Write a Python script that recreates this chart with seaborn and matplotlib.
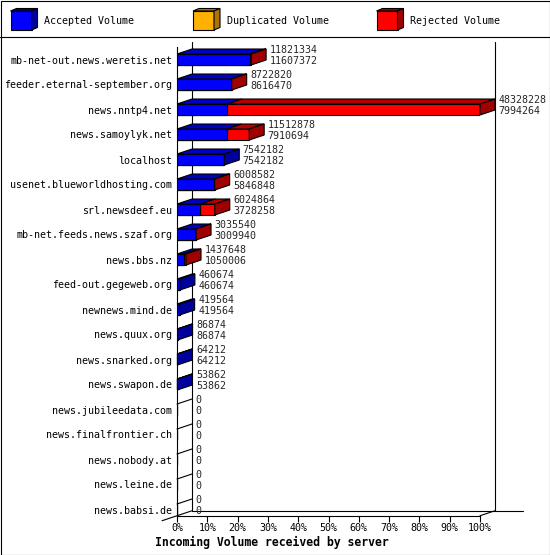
import numpy as np
import pandas as pd
import matplotlib
matplotlib.use("Agg")
import matplotlib.pyplot as plt
from matplotlib.patches import Polygon, Rectangle
import seaborn as sns

# ---------------- data ----------------
servers = ["mb-net-out.news.weretis.net", "feeder.eternal-september.org", "news.nntp4.net",
           "news.samoylyk.net", "localhost", "usenet.blueworldhosting.com", "srl.newsdeef.eu",
           "mb-net.feeds.news.szaf.org", "news.bbs.nz", "feed-out.gegeweb.org", "newnews.mind.de",
           "news.quux.org", "news.snarked.org", "news.swapon.de", "news.jubileedata.com",
           "news.finalfrontier.ch", "news.nobody.at", "news.leine.de", "news.babsi.de"]
total = [11821334, 8722820, 48328228, 11512878, 7542182, 6008582, 6024864, 3035540, 1437648,
         460674, 419564, 86874, 64212, 53862, 0, 0, 0, 0, 0]
accepted = [11607372, 8616470, 7994264, 7910694, 7542182, 5846848, 3728258, 3009940, 1050006,
            460674, 419564, 86874, 64212, 53862, 0, 0, 0, 0, 0]
duplicated = [0] * 19
ticks = [0, 10, 20, 30, 40, 50, 60, 70, 80, 90, 100]
legend_labels = ["Accepted Volume", "Duplicated Volume", "Rejected Volume"]

# front / top / side colours per series
BLUE = ("#0000ff", "#0000c0", "#00009c")
YELLOW = ("#ffb000", "#c08400", "#aa7600")
RED = ("#ff0000", "#b40000", "#a00000")

df = pd.DataFrame({"server": servers, "total": total, "accepted": accepted, "duplicated": duplicated})
top = df["total"].max()
df["tot_pct"] = df["total"] / top * 100
df["acc_pct"] = df["accepted"] / top * 100
df["dup_pct"] = (df["accepted"] + df["duplicated"]) / top * 100

sns.set_theme(style="white")
plt.rcParams["font.family"] = ["DejaVu Sans Mono"]
FS = 7.2

W, H = 550, 555
fig = plt.figure(figsize=(5.5, 5.55), dpi=100)

# background layer in pixel coords: frame + legend
bg = fig.add_axes([0, 0, 1, 1])
bg.set_xlim(0, W)
bg.set_ylim(H, 0)
bg.axis("off")
bg.add_patch(Rectangle((0.5, 0.5), W - 1, H - 1, fill=False, ec="black", lw=0.8))
bg.plot([0, W], [36.5, 36.5], color="black", lw=0.8)
for x0, lab, cols in zip([10.5, 193, 376.5], legend_labels, [BLUE, YELLOW, RED]):
    bg.add_patch(Rectangle((x0, 11), 21, 19, fc=cols[0], ec="black", lw=0.8))
    bg.add_patch(Polygon([(x0, 11), (x0 + 21, 11), (x0 + 27, 8.5), (x0 + 6, 8.5)],
                         fc=cols[2], ec="black", lw=0.8))
    bg.add_patch(Polygon([(x0 + 21, 11), (x0 + 27, 8.5), (x0 + 27, 27.5), (x0 + 21, 30)],
                         fc=cols[2], ec="black", lw=0.8))
    bg.text(x0 + 34, 21, lab, fontsize=FS, va="center", ha="left", color="black")
bg.text(155, 542, "Incoming Volume received by server", fontsize=8.3, fontweight="bold",
        va="center", ha="left", color="black")

# main plot
ax_top, ax_bot = 47, 515.75
ax = fig.add_axes([177 / W, 1 - ax_bot / H, 303 / W, (ax_bot - ax_top) / H])
ax.set_facecolor("none")

bw = 0.44
for col, c in [("tot_pct", RED), ("dup_pct", YELLOW), ("acc_pct", BLUE)]:
    sns.barplot(data=df, x=col, y="server", color=c[0], saturation=1, width=bw,
                edgecolor="black", linewidth=0.8, errorbar=None, orient="h", ax=ax)

ax.set_xlim(0, 100)
ax.set_ylim(18.25, -0.5)

dx = 15 * 100 / 303   # depth in data units (15 px)
dy = 5 / 25           # depth in rows (5 px)
txt_dx = 3.5 * 100 / 303

# back walls / floor
lk = dict(color="black", lw=0.8, clip_on=False, zorder=0.5)
ax.plot([dx, dx], [-0.5 - dy, 18.25 - dy], **lk)
ax.plot([100 + dx, 100 + dx], [-0.5 - dy, 18.25 - dy], **lk)
ax.plot([dx, 100 + dx + 28 * 100 / 303], [18.25 - dy, 18.25 - dy], **lk)
ax.plot([100, 100 + dx], [18.25, 18.25 - dy], **lk)
ax.plot([-dx, dx], [18.25 + dy, 18.25 - dy], **lk)

pk = dict(ec="black", lw=0.8, clip_on=False, zorder=3)
for i, r in df.iterrows():
    yt, yb = i - bw / 2, i + bw / 2
    segs = [(0, r.acc_pct, BLUE), (r.acc_pct, r.dup_pct, YELLOW), (r.dup_pct, r.tot_pct, RED)]
    segs = [s for s in segs if s[1] > s[0]]
    if segs:
        for x0, x1, c in segs:
            ax.add_patch(Polygon([(x0, yt), (x1, yt), (x1 + dx, yt - dy), (x0 + dx, yt - dy)],
                                 fc=c[1], **pk))
        t, c = r.tot_pct, segs[-1][2]
        ax.add_patch(Polygon([(t, yt), (t + dx, yt - dy), (t + dx, yb - dy), (t, yb)],
                             fc=c[2], **pk))
    else:
        ax.plot([0, dx], [yt, yt - dy], color="black", lw=0.8, clip_on=False, zorder=3)
    tx = r.tot_pct + dx + txt_dx
    ax.text(tx, i - 9.5 / 25, f"{r.total}", fontsize=FS, va="center", ha="left",
            clip_on=False, zorder=4)
    ax.text(tx, i + 1.5 / 25, f"{r.accepted}", fontsize=FS, va="center", ha="left",
            clip_on=False, zorder=4)

ax.set_xticks(ticks)
ax.set_xticklabels([f"{v}%" for v in ticks])
ax.set_xlabel("")
ax.set_ylabel("")
ax.tick_params(axis="x", length=4, width=0.8, color="black", direction="out",
               pad=1.5, labelsize=FS, labelcolor="black", bottom=True)
ax.tick_params(axis="y", length=0, pad=3.3, labelsize=FS, labelcolor="black")
for s in ["top", "right"]:
    ax.spines[s].set_visible(False)
for s in ["left", "bottom"]:
    ax.spines[s].set_color("black")
    ax.spines[s].set_linewidth(0.8)
ax.grid(False)

fig.savefig("out.png", dpi=100)
